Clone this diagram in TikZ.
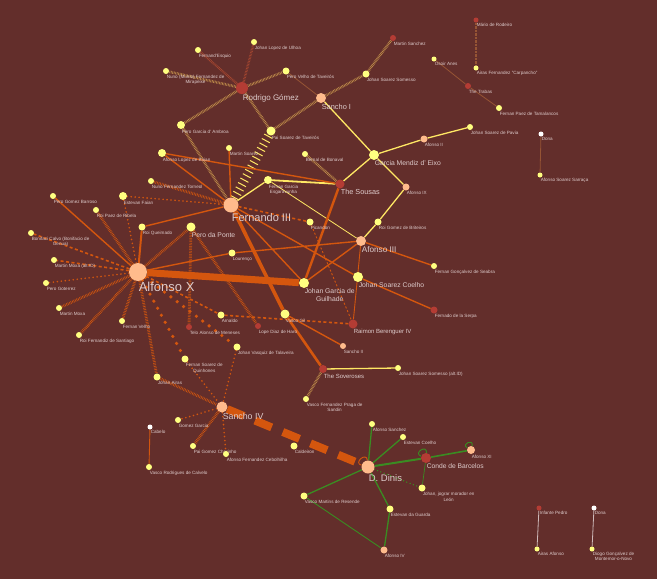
\documentclass[tikz,border=0pt]{standalone}
\usepackage{fontspec}
\setmainfont{Liberation Sans}
% colours of the network
\definecolor{bgbrown}{RGB}{99,46,43}
\definecolor{nyellow}{RGB}{255,255,128}
\definecolor{npeach}{RGB}{255,187,140}
\definecolor{nred}{RGB}{180,60,52}
\definecolor{eorange}{RGB}{212,86,14}
\definecolor{eyellow}{RGB}{255,232,100}
\definecolor{etan}{RGB}{196,146,76}
\definecolor{ebrown}{RGB}{150,84,52}
\definecolor{erust}{RGB}{170,72,48}
\definecolor{egreen}{RGB}{58,140,34}
\definecolor{egray}{RGB}{205,185,185}
\definecolor{ltext}{RGB}{222,204,204}
\pgfdeclarelayer{background}
\pgfdeclarelayer{edges}
\pgfsetlayers{background,edges,main}
\tikzset{
  dot/.style={circle, inner sep=0pt, minimum size=#1},
  lbl/.style={text=ltext, inner sep=0.6pt, anchor=north west, align=center},
  oline/.style={draw=eorange, line width=#1}, oline/.default=1.4pt,
  yline/.style={draw=eyellow, line width=#1}, yline/.default=1.3pt,
  gline/.style={draw=egreen, line width=#1}, gline/.default=1.3pt,
  bline/.style={draw=ebrown, line width=0.8pt},
  wline/.style={draw=egray, line width=0.8pt},
  thatch/.style={draw=etan, line width=2.6pt, dash pattern=on 0.6pt off 0.9pt},
  rhatch/.style={draw=erust, line width=2.4pt, dash pattern=on 0.6pt off 0.9pt},
  ohatch/.style={draw=eorange, line width=2.8pt, dash pattern=on 0.6pt off 1pt},
  yhatch/.style={draw=eyellow, line width=9pt, dash pattern=on 1pt off 4pt},
  odash/.style={draw=eorange, line width=#1, dash pattern=on 3pt off 2.5pt}, odash/.default=1.6pt,
  odotb/.style={draw=eorange, line width=3.6pt, line cap=round, dash pattern=on 0pt off 8pt},
  odots/.style={draw=eorange, line width=1.8pt, line cap=round, dash pattern=on 0pt off 4pt},
  gdots/.style={draw=egreen, line width=1.5pt, line cap=round, dash pattern=on 0pt off 3.5pt},
  bigdash/.style={draw=eorange, line width=8pt, dash pattern=on 18pt off 12pt}
}
\begin{document}
\begin{tikzpicture}[x=1pt,y=-1pt]
  % Define the canvas
  \useasboundingbox (0,0) rectangle (657,579);
  \begin{pgfonlayer}{background}
    \fill[bgbrown] (0,0) rectangle (657,579);
  \end{pgfonlayer}
  % Yellow nodes: name/x/y/diameter/font size/label
  \foreach \n/\x/\y/\d/\f/\t in {
      fesq/198/50/6/4.6/{Fernand'Esquio}, julh/254/42/6/4.6/{Johan Lopez de Ulhoa},
      nmir/166/71/6/4.6/{Nuno (Munio) Fernandez de\\[0.4pt]Mirapeixe},
      pvel/286/71/7/4.6/{Pero Velho de Taveirós}, jsom/366/74/7/4.6/{Johan Soarez Somesso},
      psoa/271/131/9/4.6/{Pai Soarez de Taveirós}, pgar/181/125/8/4.6/{Pero Garcia d' Ambroa},
      albai/162/153/8/4.6/{Afonso Lopez de Baian}, msoa/229/148/6/4.6/{Martin Soarez},
      bbon/305/154/6/4.6/{Bernal de Bonaval}, ntor/151/181/6/4.6/{Nuno Fernandez Torneol},
      fesg/268/180/8/4.6/{Fernan Garcia\\[0.8pt]Esgaravunha}, gmen/374/155/10/6.8/{Garcia Mendiz d' Eixo},
      jpav/470/127/6/4.6/{Johan Soarez de Pavia}, pica/310/222/7/4.6/{Picandon},
      rgbr/378/222/7/4.6/{Roi Gomez de Briteiros}, fgon/434/266/6/4.6/{Fernan Gonçalvez de Seabra},
      jcoe/358/277/10/6.8/{Johan Soarez Coelho}, jsomb/398/368/6/4.6/{Johan Soarez Somesso (alt.ID)},
      vfpr/306/399/6/4.6/{Vasco Fernandez Praga de\\[0.8pt]Sandin}, jgar/304/283/10/6.8/{Johan Garcia de\\[0.8pt]Guilhade},
      vgil/285/314/9/4.6/{Vasco Gil}, arna/221/315/7/4.6/{Arnaldo},
      jvas/237/347/7/4.6/{Johan Vasquiz de Talaveira}, lour/232/253/7/4.6/{Lourenço},
      pdp/191/227/9/6.8/{Pero da Ponte}, rque/142/227/7/4.6/{Roi Queimado},
      efai/123/196/8/4.6/{Estevan Faian}, pgba/53/196/6/4.6/{Pero Gomez Barroso},
      rpae/96/210/6/4.6/{Roi Paez de Ribela}, bcal/31/233/6/4.6/{Bonifaci Calvo (Bonifacio de\\[0.4pt]Genua)},
      mmoy/54/260/6/4.6/{Martin Moxa (alt.ID)}, pgot/46/283/6/4.6/{Pero Goterrez},
      mmox/59/308/6/4.6/{Martin Moxa}, rfsa/79/335/6/4.6/{Roi Fernandiz de Santiago},
      fvel/122/321/6/4.6/{Fernan Velho}, fsqu/185/359/7/4.6/{Fernan Soarez de\\[0.8pt]Quinhones},
      jair/157/377/7/4.6/{Johan Airas}, ggar/178/420/6/4.6/{Gomez Garcia},
      pgch/193/446/6/4.6/{Pai Gomez Charinho}, afce/226/454/6/4.6/{Afonso Fernandez Cebolhilha},
      cald/294/446/7/4.6/{Caldeiron}, vrca/149/467/6/4.6/{Vasco Rodrigues de Calvelo},
      asan/372/424/6/4.6/{Afonso Sanchez}, ecoe/403/437/6/4.6/{Estevan Coelho},
      jjog/422/488/7/4.6/{Johan, jograr morador en\\[0.8pt]León}, vmre/304/496/7/4.6/{Vasco Martins de Resende},
      egua/390/509/7/4.6/{Estevan da Guarda}, aafo/537/549/5/4.6/{Airas Afonso},
      diog/592/549/5/4.6/{Diogo Gonçalvez de\\[0.4pt]Montemor-o-Novo}, asar/540/175/5/4.6/{Afonso Soarez Sarraça},
      acar/476/68/5/4.6/{Airas Fernandez "Carpancho"}, osoi/434/59/5/4.6/{Osoir Anes},
      fpae/499/108/6/4.6/{Fernan Paez de Tamalancos}}{
    \node[dot=\d pt, fill=nyellow] (\n) at (\x,\y) {};
    \node[lbl, font=\fontsize{\f}{\f}\selectfont] (\n-l) at (\n.south) {\t};
  }
  % Peach nodes (kings)
  \foreach \n/\x/\y/\d/\f/\t in {
      sanI/321/98/10/7.4/{Sancho I}, afII/424/139/7/4.6/{Afonso II},
      afIX/406/187/7/4.6/{Afonso IX}, feIII/231/205/15/11/{Fernando III},
      afIII/361/241/10/8.2/{Afonso III}, sanII/343/346/6/4.6/{Sancho II},
      afX/138/272/18/13/{Alfonso X}, sIV/222/407/11/8.8/{Sancho IV},
      dDin/368/467/13/9.5/{D. Dinis}, afXI/471/450/8/4.6/{Afonso XI},
      afIV/384/550/7/4.6/{Afonso IV}}{
    \node[dot=\d pt, fill=npeach] (\n) at (\x,\y) {};
    \node[lbl, font=\fontsize{\f}{\f}\selectfont] (\n-l) at (\n.south) {\t};
  }
  % Red nodes
  \foreach \n/\x/\y/\d/\f/\t in {
      rgom/242/88/12/8/{Rodrigo Gómez}, msan/393/38/6/4.6/{Martin Sanchez},
      sous/340/184/9/7.3/{The Sousas}, fser/434/310/7/4.6/{Fernado de la Serpa},
      raim/353/324/9/6/{Raimon Berenguer IV}, sove/323/369/8/6/{The Soveroses},
      ldia/258/326/6/4.6/{Lope Diaz de Haro}, telo/189/327/6/4.6/{Telo Alonso de Meneses},
      cbar/426/458/10/6.7/{Conde de Barcelos}, infp/539/508/5/4.6/{Infante Pedro},
      mrod/476/20/5/4.6/{Mário de Rodeiro}, trab/468/86/6/4.6/{The Trabas}}{
    \node[dot=\d pt, fill=nred] (\n) at (\x,\y) {};
    \node[lbl, font=\fontsize{\f}{\f}\selectfont] (\n-l) at (\n.south) {\t};
  }
  % White nodes
  \foreach \n/\x/\y/\t in {dona/541/134/{Dona}, cabe/150/427/{Cabelo}, donab/594/508/{Dona}}{
    \node[dot=5pt, fill=white] (\n) at (\x,\y) {};
    \node[lbl, font=\fontsize{4.6}{4.6}\selectfont] (\n-l) at (\n.south) {\t};
  }
  % Draw the connectors below the nodes
  \begin{pgfonlayer}{edges}
    \foreach \a/\b in {rgom/nmir, rgom/pvel, rgom/pgar, rgom/psoa, sanI/psoa, sanI/jsom,
        jsom/msan, pgar/feIII, bbon/sous, sove/vfpr}
      \draw[thatch] (\a) -- (\b);
    \foreach \a/\b in {rgom/fesq, rgom/julh}
      \draw[rhatch] (\a) -- (\b);
    \draw[yhatch] (feIII) -- (psoa);
    \foreach \a/\b in {sanI/pvel, osoi/trab, trab/fpae, dona/asar}
      \draw[bline] (\a) -- (\b);
    \draw[bline, line width=1.4pt, dash pattern=on 0.6pt off 0.8pt] (mrod) -- (acar);
    \foreach \a/\b in {infp/aafo, donab/diog}
      \draw[wline] (\a) -- (\b);
    % yellow lines
    \foreach \a/\b in {sanI/gmen, gmen/afII, afII/jpav, gmen/sous, gmen/afIX, afIX/rgbr,
        rgbr/afIII, feIII/fesg, sove/jsomb}
      \draw[yline] (\a) -- (\b);
    \draw[yline=1.8pt] (fesg) -- (sous);
    \draw[yline=0.8pt] (fesg) -- (afIII);
    % orange lines
    \foreach \a/\b in {albai/sous, albai/feIII, msoa/feIII, rque/feIII, afX/pgba, afX/lour,
        lour/afIII, feIII/jgar, feIII/jcoe, jcoe/fser, jgar/afIII, afIII/fgon, vgil/sanII}
      \draw[oline] (\a) -- (\b);
    \draw[oline=0.9pt] (afIII) -- (raim);
    \draw[oline=0.9pt] (cabe) -- (vrca);
    \draw[oline=2pt] (rque) -- (afX);
    \draw[oline=2.4pt] (sous) -- (jgar);
    \draw[oline=2.6pt] (vgil) -- (sove);
    \draw[oline=3.6pt] (feIII) -- (vgil);
    \draw[oline=7pt] (afX) -- (jgar);
    \foreach \a/\b in {ntor/feIII, afX/pdp, pdp/telo, pdp/ldia, afX/rpae, afX/mmox, afX/rfsa,
        afX/fvel, afX/jair, jair/sIV, sIV/pgch}
      \draw[ohatch] (\a) -- (\b);
    \foreach \a/\b in {afX/bcal, afX/mmoy, feIII/pica, afX/arna, arna/raim}
      \draw[odash] (\a) -- (\b);
    \draw[odash=0.9pt, dash pattern=on 2pt off 2pt] (pica) -- (raim);
    \foreach \a/\b in {afX/fsqu, afX/jvas}
      \draw[odotb] (\a) -- (\b);
    \foreach \a/\b in {efai/feIII, afX/efai, afX/pgot, fsqu/sIV, jvas/sIV, sIV/ggar, sIV/afce}
      \draw[odots] (\a) -- (\b);
    \draw[bigdash] (sIV) -- (dDin);
    % green lines
    \foreach \a/\b in {dDin/asan, dDin/ecoe, dDin/vmre, dDin/egua, egua/afIV}
      \draw[gline] (\a) -- (\b);
    \draw[gline=2pt] (dDin) -- (cbar);
    \draw[gline=1.6pt] (cbar) -- (afXI);
    \draw[gline=0.9pt] (vmre) -- (afIV);
    \draw[gline=0.7pt] (cbar) -- (jjog);
    \draw[gdots] (dDin) -- (jjog);
    % self loops
    \draw[oline=0.9pt] (dDin) to[out=165,in=95,min distance=9pt] (dDin);
    \draw[gline=0.9pt] (cbar) to[out=160,in=85,min distance=9pt] (cbar);
    \draw[gline=0.9pt] (afXI) to[out=150,in=75,min distance=8pt] (afXI);
  \end{pgfonlayer}
\end{tikzpicture}
\end{document}
